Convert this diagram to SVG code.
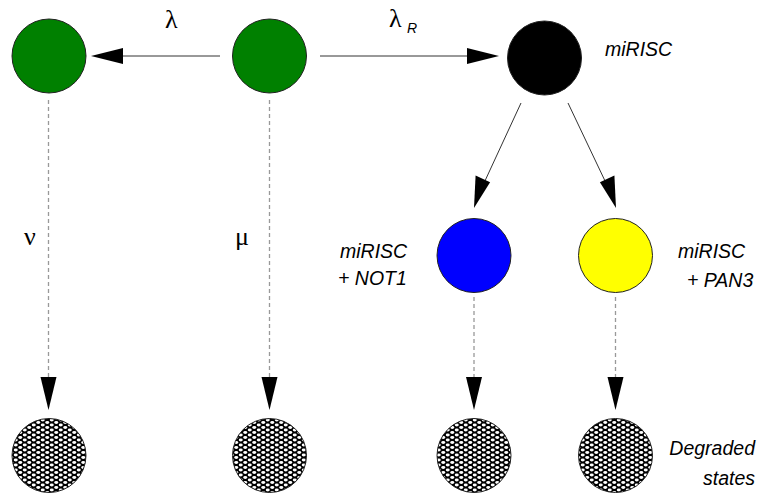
<svg xmlns="http://www.w3.org/2000/svg" width="759" height="494" viewBox="0 0 759 494">
<style>
.node{stroke:#222;stroke-width:1}
.lab{font-family:"Liberation Sans",Arial,sans-serif;font-style:italic;font-size:19.5px;fill:#000}
.greek{font-family:"Liberation Serif","Times New Roman",serif;font-size:26px;fill:#000}
.solid{stroke:#333;stroke-width:1;fill:none}
.dash{stroke:#999;stroke-width:1.3;stroke-dasharray:4 3;fill:none}
.head{fill:#000;stroke:none}
</style>
<defs>
<pattern id="hatch" width="9" height="5" patternUnits="userSpaceOnUse">
<rect width="9" height="5" fill="#000"/>
<ellipse cx="2.25" cy="2.5" rx="2" ry="1.4" fill="#fff"/>
<ellipse cx="6.75" cy="0" rx="2" ry="1.4" fill="#fff"/>
<ellipse cx="6.75" cy="5" rx="2" ry="1.4" fill="#fff"/>
</pattern>
</defs>
<g id="connectors">
<line class="solid" x1="220" y1="56" x2="120" y2="56"/>
<polygon class="head" points="91,56 123,48 123,64"/>
<line class="solid" x1="320" y1="56" x2="470" y2="56"/>
<polygon class="head" points="499,56 467,48 467,64"/>
<line class="solid" x1="521" y1="103" x2="484" y2="183"/>
<polygon class="head" points="474,208 475.6,175.5 490.1,182.2"/>
<line class="solid" x1="568" y1="103" x2="606" y2="183"/>
<polygon class="head" points="616,208 599.9,182.2 614.4,175.5"/>
<line class="dash" x1="48.5" y1="100" x2="48.5" y2="380"/>
<polygon class="head" points="48.5,410 40.5,377 56.5,377"/>
<line class="dash" x1="269.5" y1="100" x2="269.5" y2="380"/>
<polygon class="head" points="269.5,410 261.5,377 277.5,377"/>
<line class="dash" x1="474" y1="297" x2="474" y2="380"/>
<polygon class="head" points="474,410 466,377 482,377"/>
<line class="dash" x1="615.5" y1="297" x2="615.5" y2="380"/>
<polygon class="head" points="615.5,410 607.5,377 623.5,377"/>
</g>
<g id="labels">
<text class="greek" x="165" y="28">λ</text>
<text class="greek" x="389" y="27">λ</text>
<text class="lab" x="407" y="33" style="font-size:14px">R</text>
<text class="greek" x="24" y="245">ν</text>
<text class="greek" x="235" y="245">μ</text>
</g>
<g id="n_green1"><circle class="node" cx="49" cy="56" r="37" fill="#008000"/></g>
<g id="n_green2"><circle class="node" cx="269.5" cy="56" r="37" fill="#008000"/></g>
<g id="n_mirisc"><circle class="node" cx="544.5" cy="58" r="37" fill="#000"/>
<text class="lab" x="605" y="56">miRISC</text></g>
<g id="n_not1"><circle class="node" cx="474" cy="255.5" r="37" fill="#0000ff"/>
<text class="lab" x="340" y="258">miRISC</text>
<text class="lab" x="338" y="285">+ NOT1</text></g>
<g id="n_pan3"><circle class="node" cx="615.5" cy="255.5" r="37" fill="#ffff00"/>
<text class="lab" x="678" y="258">miRISC</text>
<text class="lab" x="687" y="287">+ PAN3</text></g>
<g id="n_deg1"><circle class="node" cx="49" cy="455.5" r="37" fill="url(#hatch)"/></g>
<g id="n_deg2"><circle class="node" cx="269.5" cy="455.5" r="37" fill="url(#hatch)"/></g>
<g id="n_deg3"><circle class="node" cx="474" cy="455.5" r="37" fill="url(#hatch)"/></g>
<g id="n_deg4"><circle class="node" cx="615.5" cy="455.5" r="37" fill="url(#hatch)"/>
<text class="lab" x="755" y="455" text-anchor="end">Degraded</text>
<text class="lab" x="755" y="485" text-anchor="end">states</text></g>
</svg>
